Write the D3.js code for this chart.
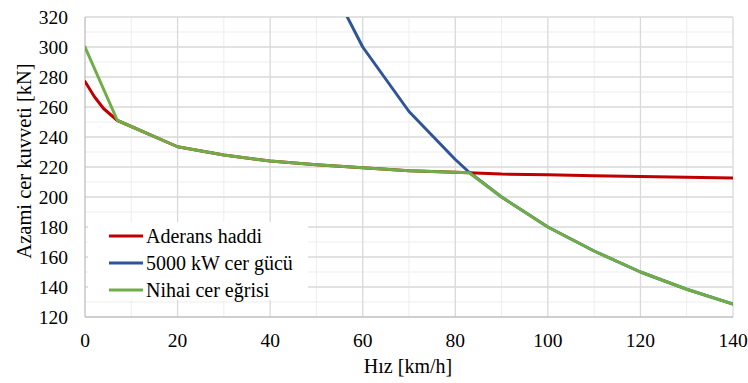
<!DOCTYPE html>
<html>
<head>
<meta charset="utf-8">
<script src="https://cdn.jsdelivr.net/npm/d3@7"></script>
<style>
  body { margin: 0; background: #fff; }
</style>
</head>
<body>
<div id="chart"></div>
<script>
// series
const adhesionSpeed = [0, 2, 4, 7, 10, 20, 30, 40, 50, 60, 70, 80, 90, 100, 110, 120, 130, 140];
const adhesionForce = [277, 267, 259, 251, 247, 233.5, 228, 224, 221.5, 219.5, 217.5, 216.5, 215.3, 214.8, 214.2, 213.7, 213.2, 212.7];

const powerSpeed = [50, 60, 70, 80, 83, 90, 100, 110, 120, 130, 140];
const powerForce = [360, 300, 257, 225, 216.5, 200, 180, 164, 150, 138.5, 128.6];

const finalSpeed = [0, 7, 10, 20, 30, 40, 50, 60, 70, 80, 83, 90, 100, 110, 120, 130, 140];
const finalForce = [300, 251, 247, 233.5, 228, 224, 221.5, 219.5, 217.5, 216.5, 216.2, 200, 180, 164, 150, 138.5, 128.6];

const seriesNames = ['Aderans haddi', '5000 kW cer gücü', 'Nihai cer eğrisi'];
const seriesColors = ['#C00000', '#2F5597', '#70AD47'];

const xTicks = [0, 20, 40, 60, 80, 100, 120, 140];
const yTicks = [120, 140, 160, 180, 200, 220, 240, 260, 280, 300, 320];

const width = 748, height = 383;
const margin = { top: 17, right: 15, bottom: 66, left: 85 };
const serif = "'Liberation Serif', 'Times New Roman', 'DejaVu Serif', serif";

const svg = d3.select('#chart').append('svg')
  .attr('width', width)
  .attr('height', height)
  .style('font-family', serif);

const x = d3.scaleLinear().domain([0, 140]).range([margin.left, width - margin.right]);
const y = d3.scaleLinear().domain([120, 320]).range([height - margin.bottom, margin.top]);

// minor grid
const minorX = d3.range(10, 140, 20);
const minorY = d3.range(130, 320, 20);
svg.append('g').selectAll('line').data(minorX).enter().append('line')
  .attr('x1', d => x(d)).attr('x2', d => x(d))
  .attr('y1', y(120)).attr('y2', y(320))
  .attr('stroke', '#EDEDED').attr('stroke-width', 1);
svg.append('g').selectAll('line').data(minorY).enter().append('line')
  .attr('x1', x(0)).attr('x2', x(140))
  .attr('y1', d => y(d)).attr('y2', d => y(d))
  .attr('stroke', '#EDEDED').attr('stroke-width', 1);

// major grid
svg.append('g').selectAll('line').data(xTicks.slice(1)).enter().append('line')
  .attr('x1', d => x(d)).attr('x2', d => x(d))
  .attr('y1', y(120)).attr('y2', y(320))
  .attr('stroke', '#D9D9D9').attr('stroke-width', 1.3);
svg.append('g').selectAll('line').data(yTicks.slice(1)).enter().append('line')
  .attr('x1', x(0)).attr('x2', x(140))
  .attr('y1', d => y(d)).attr('y2', d => y(d))
  .attr('stroke', '#D9D9D9').attr('stroke-width', 1.3);

// axes lines
svg.append('line')
  .attr('x1', x(0)).attr('x2', x(0)).attr('y1', y(120)).attr('y2', y(320))
  .attr('stroke', '#BFBFBF').attr('stroke-width', 1.3);
svg.append('line')
  .attr('x1', x(0)).attr('x2', x(140)).attr('y1', y(120)).attr('y2', y(120))
  .attr('stroke', '#BFBFBF').attr('stroke-width', 1.3);

// tick labels
svg.append('g').selectAll('text').data(yTicks).enter().append('text')
  .attr('x', 68)
  .attr('y', d => y(d))
  .attr('dy', '0.34em')
  .attr('text-anchor', 'end')
  .attr('font-family', serif)
  .attr('font-size', '19.5px')
  .text(d => d);
svg.append('g').selectAll('text').data(xTicks).enter().append('text')
  .attr('x', d => x(d))
  .attr('y', 347)
  .attr('text-anchor', 'middle')
  .attr('font-family', serif)
  .attr('font-size', '19.5px')
  .text(d => d);

// titles
svg.append('text')
  .attr('x', 408)
  .attr('y', 373)
  .attr('text-anchor', 'middle')
  .attr('font-family', serif)
  .attr('font-size', '20px')
  .text('Hız [km/h]');
svg.append('text')
  .attr('transform', 'translate(31, 161) rotate(-90)')
  .attr('text-anchor', 'middle')
  .attr('font-family', serif)
  .attr('font-size', '20.5px')
  .text('Azami cer kuvveti [kN]');

// lines
svg.append('clipPath').attr('id', 'plot')
  .append('rect')
  .attr('x', x(0)).attr('y', y(320))
  .attr('width', x(140) - x(0)).attr('height', y(120) - y(320));

const line = d3.line().x(d => x(d[0])).y(d => y(d[1]));
const series = [
  d3.zip(adhesionSpeed, adhesionForce),
  d3.zip(powerSpeed, powerForce),
  d3.zip(finalSpeed, finalForce)
];

const lines = svg.append('g').attr('clip-path', 'url(#plot)');
series.forEach((s, i) => {
  lines.append('path')
    .datum(s)
    .attr('d', line)
    .attr('fill', 'none')
    .attr('stroke', seriesColors[i])
    .attr('stroke-width', 3)
    .attr('stroke-linejoin', 'round')
    .attr('stroke-linecap', 'round');
});

// legend
const legend = svg.append('g');
legend.append('rect')
  .attr('x', 88).attr('y', 222)
  .attr('width', 220).attr('height', 78)
  .attr('fill', '#fff');
seriesNames.forEach((name, i) => {
  const ly = 236 + i * 27;
  legend.append('line')
    .attr('x1', 109).attr('x2', 143)
    .attr('y1', ly).attr('y2', ly)
    .attr('stroke', seriesColors[i])
    .attr('stroke-width', 3);
  legend.append('text')
    .attr('x', 146)
    .attr('y', ly)
    .attr('dy', '0.34em')
    .attr('font-family', serif)
    .attr('font-size', '20px')
    .text(name);
});
</script>
</body>
</html>
